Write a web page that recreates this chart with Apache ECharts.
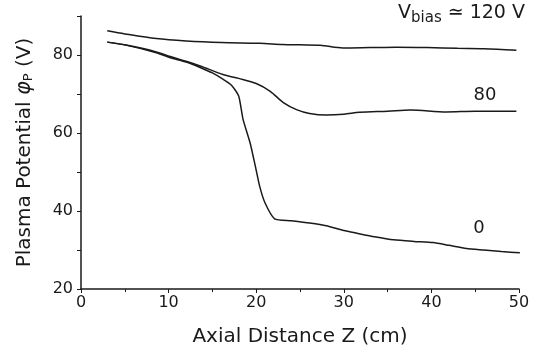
<!DOCTYPE html>
<html><head><meta charset="utf-8">
<script src="https://cdn.jsdelivr.net/npm/echarts@6/dist/echarts.min.js"></script>
<style>html,body{margin:0;padding:0;background:#fff}#c{width:533px;height:352px}</style>
</head><body><div id="c"></div>
<script>
// Axial distance Z (cm) and plasma potential (V) for each bias voltage
var z120 = [3, 5, 8.6, 12, 16, 20.4, 23, 25, 27.3, 29.9, 33, 36, 39.5, 43, 46, 49.7];
var v120 = [86.2, 85.4, 84.2, 83.6, 83.2, 83.0, 82.7, 82.6, 82.5, 81.8, 81.9, 82.0, 81.9, 81.7, 81.6, 81.2];

var z80 = [3, 5, 8.6, 10.2, 12, 13.6, 16.2, 18, 20, 21.6, 23.1, 24.6, 26.1, 28, 30, 31.8, 35, 37.6, 41.7, 45, 49.7];
var v80 = [83.3, 82.6, 80.8, 79.6, 78.4, 77.2, 75.0, 74.0, 72.7, 70.7, 67.8, 66.0, 65.0, 64.6, 64.8, 65.3, 65.6, 65.9, 65.4, 65.6, 65.6];

var z0 = [3, 5, 8.6, 10.2, 12, 13.6, 15, 16.2, 17.2, 18, 18.5, 19.3, 19.9, 20.4, 21, 22.1, 24, 26.1, 28, 30, 31.5, 33.5, 35.7, 38, 40.2, 42, 44, 46, 48, 50.1];
var v0 = [83.3, 82.6, 80.6, 79.3, 78.2, 76.8, 75.4, 73.8, 72.2, 69.5, 63.5, 57.5, 51.5, 46.3, 42.1, 38.0, 37.5, 36.9, 36.2, 35.0, 34.3, 33.4, 32.6, 32.2, 31.9, 31.2, 30.4, 30.0, 29.6, 29.3];

var xTicks = [0, 10, 20, 30, 40, 50];
var yTickLabels = [20, 40, 60, 80];

var curveLabels = [
  {text: '80', x: 485, y: 95},
  {text: '0', x: 479, y: 228}
];

function pairs(zs, vs) { return zs.map(function (z, i) { return [z, vs[i]]; }); }

var FONT = 'DejaVu Sans';
var ink = '#1a1a1a';
var chart = echarts.init(document.getElementById('c'));
var lineStyle = {color: ink, width: 1.5};

chart.setOption({
  animation: false,
  backgroundColor: '#fff',
  grid: {left: 81, right: 14, top: 16, bottom: 63},
  xAxis: {
    type: 'value', min: 0, max: 50, interval: 10,
    axisLine: {show: true, lineStyle: {color: ink, width: 1.5}},
    axisTick: {show: true, length: 4, lineStyle: {color: ink, width: 1}},
    minorTick: {show: true, splitNumber: 2, length: 3, lineStyle: {color: ink}},
    splitLine: {show: false},
    axisLabel: {
      margin: 6, color: ink, fontFamily: FONT, fontSize: 16,
      formatter: function (v) { return xTicks.indexOf(v) >= 0 ? String(v) : ''; }
    },
    name: 'Axial Distance Z (cm)', nameLocation: 'middle', nameGap: 38,
    nameTextStyle: {color: ink, fontFamily: FONT, fontSize: 20}
  },
  yAxis: {
    type: 'value', min: 20, max: 90, interval: 10,
    axisLine: {show: true, lineStyle: {color: ink, width: 1.5}},
    axisTick: {show: true, length: 4, lineStyle: {color: ink, width: 1}},
    splitLine: {show: false},
    axisLabel: {
      margin: 8, color: ink, fontFamily: FONT, fontSize: 16,
      formatter: function (v) { return yTickLabels.indexOf(v) >= 0 ? String(v) : ''; }
    },
    name: '{a|Plasma Potential }{i|φ}{s|P}{a| (V)}', nameLocation: 'middle', nameGap: 46,
    nameTextStyle: {
      color: ink, fontFamily: FONT, fontSize: 20,
      rich: {
        a: {fontFamily: FONT, fontSize: 20, color: ink},
        i: {fontFamily: FONT, fontSize: 21, fontStyle: 'italic', color: ink},
        s: {fontFamily: FONT, fontSize: 13, color: ink, verticalAlign: 'bottom', padding: [8, 0, 0, 0]}
      }
    }
  },
  series: [
    {type: 'line', data: pairs(z120, v120), smooth: 0.3, symbol: 'none', lineStyle: lineStyle},
    {type: 'line', data: pairs(z80, v80), smooth: 0.3, symbol: 'none', lineStyle: lineStyle},
    {type: 'line', data: pairs(z0, v0), smooth: 0.2, symbol: 'none', lineStyle: lineStyle}
  ],
  graphic: [
    {
      type: 'text', right: 8, top: 4,
      style: {
        text: '{a|V}{s|bias}{a| ≃ 120 V}',
        rich: {
          a: {fontFamily: FONT, fontSize: 19, fill: ink},
          s: {fontFamily: FONT, fontSize: 15, fill: ink, padding: [9, 0, 0, 0]}
        }
      }
    }
  ].concat(curveLabels.map(function (l) {
    return {type: 'text', x: l.x, y: l.y, style: {text: l.text, fontFamily: FONT, fontSize: 18, fill: ink, align: 'center', verticalAlign: 'middle'}};
  }))
});
</script>
</body></html>
